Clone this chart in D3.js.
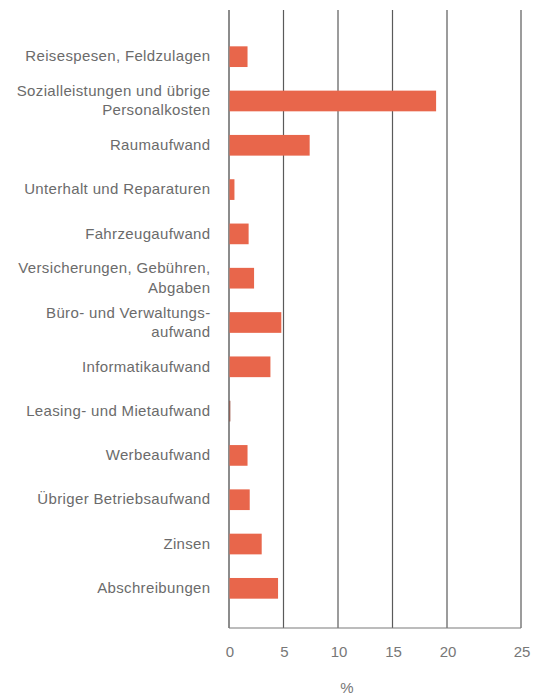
<!DOCTYPE html>
<html>
<head>
<meta charset="utf-8">
<script src="https://cdn.jsdelivr.net/npm/d3@7"></script>
<style>
  body { margin: 0; background: #fff; }
  text { font-family: "Liberation Sans", Arial, sans-serif; }
</style>
</head>
<body>
<div id="chart"></div>
<script>
const categories = [
    ['Reisespesen, Feldzulagen'],
    ['Sozialleistungen und übrige', 'Personalkosten'],
    ['Raumaufwand'],
    ['Unterhalt und Reparaturen'],
    ['Fahrzeugaufwand'],
    ['Versicherungen, Gebühren,', 'Abgaben'],
    ['Büro- und Verwaltungs-', 'aufwand'],
    ['Informatikaufwand'],
    ['Leasing- und Mietaufwand'],
    ['Werbeaufwand'],
    ['Übriger Betriebsaufwand'],
    ['Zinsen'],
    ['Abschreibungen']
]
const values = [1.7, 19.0, 7.4, 0.5, 1.8, 2.3, 4.8, 3.8, 0.1, 1.7, 1.9, 3.0, 4.5]
const ticks = [0, 5, 10, 15, 20, 25]
const axisTitle = '%'

const width = 539
const height = 698

const svg = d3.select('#chart')
    .append('svg')
    .attr('width', width)
    .attr('height', height)

const keys = categories.map((d) => d.join(' '))

// the last interval in the original is wider than the others
const x = d3.scaleLinear()
    .domain([0, 20, 25])
    .range([229, 447, 521])

const y = d3.scaleBand()
    .domain(keys)
    .range([13.1, 631.9])
    .paddingInner(0.533)
    .paddingOuter(0.75)

const gridTop = 10
const gridBottom = 628

// grid lines
svg.append('g')
    .selectAll('line')
    .data(ticks)
    .join('line')
    .attr('x1', (d) => x(d))
    .attr('x2', (d) => x(d))
    .attr('y1', gridTop)
    .attr('y2', gridBottom)
    .attr('stroke', (d) => d == 0 ? '#8c8c8c' : '#5a5a5a')
    .attr('stroke-width', (d) => d == 0 ? 2 : 1.2)

svg.append('line')
    .attr('x1', x(0))
    .attr('x2', x(25))
    .attr('y1', gridBottom)
    .attr('y2', gridBottom)
    .attr('stroke', '#7a7a7a')
    .attr('stroke-width', 1.2)

// bars
svg.append('g')
    .selectAll('rect')
    .data(values)
    .join('rect')
    .attr('x', x(0) + 0.5)
    .attr('y', (d, i) => y(keys[i]))
    .attr('width', (d) => Math.max(0.8, x(d) - x(0) - 0.5))
    .attr('height', y.bandwidth())
    .attr('fill', (d) => d < 0.3 ? '#8a3a2a' : '#e8664b')

// category labels
const labels = svg.append('g')
    .selectAll('text')
    .data(categories)
    .join('text')
    .attr('text-anchor', 'end')
    .attr('font-size', 15)
    .attr('letter-spacing', 0.35)
    .attr('fill', '#6b6b6b')
    .attr('transform', (d, i) => `translate(210.5,${y(keys[i]) + y.bandwidth() / 2 - 0.5})`)

labels.selectAll('tspan')
    .data((d) => d.map((t, j) => ({ t, j, n: d.length })))
    .join('tspan')
    .attr('x', 0)
    .attr('y', (d) => (d.j - (d.n - 1) / 2) * 19.5)
    .attr('dy', '0.35em')
    .text((d) => d.t)

// tick labels
svg.append('g')
    .selectAll('text')
    .data(ticks)
    .join('text')
    .attr('x', (d) => x(d) + 1)
    .attr('y', 652)
    .attr('dy', '0.35em')
    .attr('text-anchor', 'middle')
    .attr('font-size', 15)
    .attr('fill', '#777')
    .text((d) => d)

svg.append('text')
    .attr('x', 347)
    .attr('y', 688)
    .attr('dy', '0.35em')
    .attr('text-anchor', 'middle')
    .attr('font-size', 15)
    .attr('fill', '#777')
    .text(axisTitle)
</script>
</body>
</html>
